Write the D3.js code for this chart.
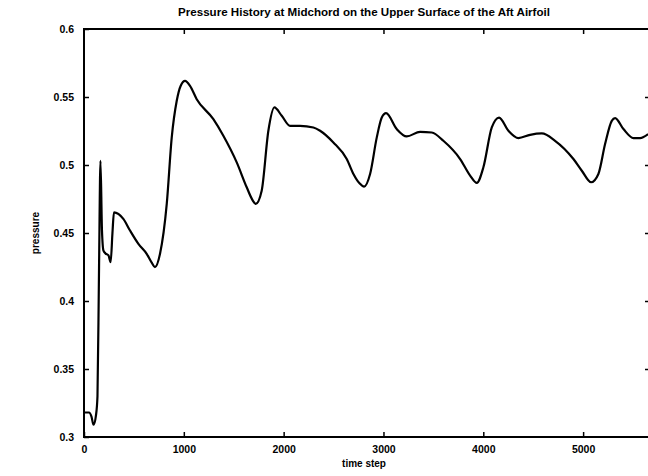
<!DOCTYPE html>
<html><head><meta charset="utf-8">
<script src="https://cdn.jsdelivr.net/npm/d3@7"></script>
<style>
html,body{margin:0;padding:0;background:#fff;}
svg{display:block;}
text{font-family:"Liberation Sans",Arial,sans-serif;font-weight:bold;fill:#000;}
</style></head>
<body>
<svg id="chart" width="648" height="476"></svg>
<script>
const timeSteps = [0,50,75,95,120,135,150,165,180,195,215,245,267,285,300,394,461,545,628,680,711,762,829,879,929,970,1012,1062,1129,1296,1396,1530,1630,1690,1720,1780,1847,1907,1981,2064,2164,2298,2365,2498,2632,2699,2760,2806,2866,2933,2983,3026,3133,3233,3367,3484,3600,3768,3868,3935,4001,4085,4158,4252,4352,4469,4586,4719,4903,4987,5080,5153,5220,5287,5321,5404,5504,5571,5651];
const pressure = [0.318,0.318,0.315,0.309,0.316,0.33,0.42,0.503,0.452,0.437,0.435,0.4335,0.4286,0.45,0.4652,0.4604,0.4518,0.442,0.4347,0.428,0.4249,0.4349,0.4714,0.5203,0.5472,0.5585,0.5618,0.5582,0.5484,0.5337,0.5215,0.5019,0.4836,0.474,0.4714,0.4811,0.5252,0.5423,0.5362,0.5288,0.5288,0.5276,0.5252,0.5166,0.5044,0.4934,0.4865,0.4841,0.4934,0.5203,0.5349,0.5381,0.5264,0.521,0.5244,0.5239,0.5178,0.5044,0.4922,0.4868,0.4983,0.5276,0.5349,0.5252,0.5198,0.5222,0.5232,0.5178,0.5044,0.4958,0.4873,0.4934,0.5154,0.5325,0.5345,0.5264,0.5198,0.5198,0.5227];
const xTicks = [0,1000,2000,3000,4000,5000];
const yTicks = [0.3,0.35,0.4,0.45,0.5,0.55,0.6];
const yTickLabels = ["0.3","0.35","0.4","0.45","0.5","0.55","0.6"];
const titleText = "Pressure History at Midchord on the Upper Surface of the Aft Airfoil";
const xLabel = "time step";
const yLabel = "pressure";

const svg = d3.select("#chart");
const L = 84, R = 649, T = 29, B = 437;
const x = d3.scaleLinear().domain([0, 5660]).range([L, R]);
const y = d3.scaleLinear().domain([0.3, 0.6]).range([B, T]);

svg.append("rect").attr("x", L).attr("y", T).attr("width", R - L).attr("height", B - T)
  .attr("fill", "none").attr("stroke", "#000").attr("stroke-width", 2);

const gB = svg.append("g").attr("transform", `translate(0,${B})`)
  .call(d3.axisBottom(x).tickValues(xTicks).tickSize(-5).tickPadding(9).tickFormat(d3.format("d")));
const gT = svg.append("g").attr("transform", `translate(0,${T})`)
  .call(d3.axisTop(x).tickValues(xTicks.slice(1)).tickSize(-5).tickFormat(""));
const gL = svg.append("g").attr("transform", `translate(${L},0)`)
  .call(d3.axisLeft(y).tickValues(yTicks).tickSize(-5).tickPadding(10).tickFormat((d,i)=>yTickLabels[i]));
const gR = svg.append("g").attr("transform", `translate(${R},0)`)
  .call(d3.axisRight(y).tickValues(yTicks.slice(1,-1)).tickSize(-4).tickFormat(""));

[gB, gT, gL, gR].forEach(g => {
  g.select(".domain").remove();
  g.selectAll(".tick line").attr("stroke", "#000").attr("stroke-width", 1.5);
  g.selectAll("text").attr("font-size", 10.5).attr("font-family", "Liberation Sans, Arial, sans-serif").attr("font-weight", "bold");
});

const line = d3.line().x((d, i) => x(timeSteps[i])).y(d => y(d)).curve(d3.curveMonotoneX);
svg.append("path").datum(pressure).attr("d", line)
  .attr("fill", "none").attr("stroke", "#000").attr("stroke-width", 2.2).attr("stroke-linejoin", "round");

svg.append("text").attr("x", 364).attr("y", 16).attr("text-anchor", "middle")
  .attr("font-size", 10.5).attr("textLength", 372).attr("lengthAdjust", "spacingAndGlyphs").text(titleText);
svg.append("text").attr("x", 364).attr("y", 467).attr("text-anchor", "middle")
  .attr("font-size", 10).text(xLabel);
svg.append("text").attr("transform", "translate(39,233) rotate(-90)").attr("text-anchor", "middle")
  .attr("font-size", 10).text(yLabel);
</script>
</body></html>
